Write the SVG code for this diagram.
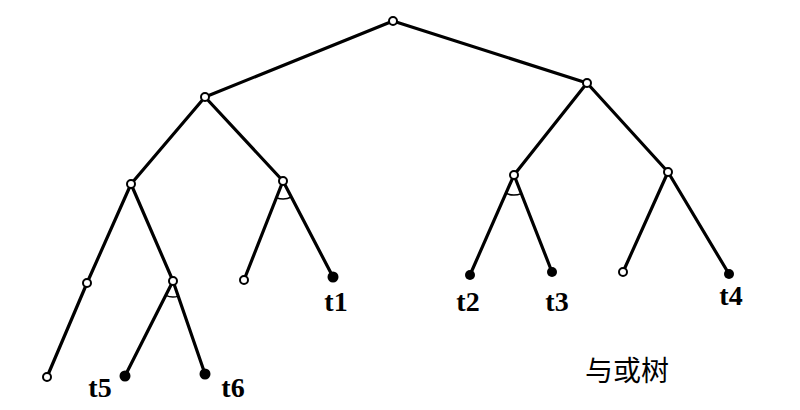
<svg xmlns="http://www.w3.org/2000/svg" width="800" height="410" viewBox="0 0 800 410">
<style>
.e{stroke:#000;stroke-width:3.2;fill:none;stroke-linecap:round}
.a{stroke:#000;stroke-width:1.5;fill:none}
.o{fill:#fff;stroke:#000;stroke-width:2}
.f{fill:#000}
.t{font-family:"Liberation Serif",serif;font-weight:bold;font-size:28px;text-anchor:middle;fill:#000}
.c{font-family:"Liberation Serif","Noto Sans CJK SC",serif;font-size:28px;text-anchor:middle;fill:#000}
</style>
<rect width="800" height="410" fill="#fff"/>
<g id="connectors">
<line class="e" x1="393" y1="21" x2="205" y2="97"/>
<line class="e" x1="393" y1="21" x2="587" y2="83"/>
<line class="e" x1="205" y1="97" x2="131" y2="184"/>
<line class="e" x1="205" y1="97" x2="283" y2="181"/>
<line class="e" x1="131" y1="184" x2="87" y2="283"/>
<line class="e" x1="131" y1="184" x2="173" y2="281"/>
<line class="e" x1="87" y1="283" x2="47" y2="377"/>
<line class="e" x1="173" y1="281" x2="125" y2="376"/>
<line class="e" x1="173" y1="281" x2="205" y2="374"/>
<line class="e" x1="283" y1="181" x2="244" y2="280"/>
<line class="e" x1="283" y1="181" x2="333" y2="277"/>
<line class="e" x1="587" y1="83" x2="514" y2="175"/>
<line class="e" x1="587" y1="83" x2="668" y2="172"/>
<line class="e" x1="514" y1="175" x2="470" y2="275"/>
<line class="e" x1="514" y1="175" x2="552" y2="272"/>
<line class="e" x1="668" y1="172" x2="623" y2="272"/>
<line class="e" x1="668" y1="172" x2="729" y2="274"/>
<path class="a" d="M276.4,197.7 A18,18 0 0 0 291.3,197"/>
<path class="a" d="M165.8,295.3 A16,16 0 0 0 178.2,296.1"/>
<path class="a" d="M505.9,193.3 A20,20 0 0 0 521.3,193.6"/>
</g>
<g id="n0"><circle class="o" cx="393" cy="21" r="4"/></g>
<g id="n1"><circle class="o" cx="205" cy="97" r="4"/></g>
<g id="n2"><circle class="o" cx="587" cy="83" r="4"/></g>
<g id="n3"><circle class="o" cx="131" cy="184" r="4"/></g>
<g id="n4"><circle class="o" cx="283" cy="181" r="4"/></g>
<g id="n5"><circle class="o" cx="87" cy="283" r="4"/></g>
<g id="n6"><circle class="o" cx="173" cy="281" r="4"/></g>
<g id="n7"><circle class="o" cx="47" cy="377" r="4"/></g>
<g id="t5"><circle class="f" cx="125" cy="376" r="5.5"/><text class="t" x="100" y="397">t5</text></g>
<g id="t6"><circle class="f" cx="205" cy="374" r="5.5"/><text class="t" x="233" y="397">t6</text></g>
<g id="n8"><circle class="o" cx="244" cy="280" r="4"/></g>
<g id="t1"><circle class="f" cx="333" cy="277" r="5.5"/><text class="t" x="336" y="311">t1</text></g>
<g id="n9"><circle class="o" cx="514" cy="175" r="4"/></g>
<g id="n10"><circle class="o" cx="668" cy="172" r="4"/></g>
<g id="t2"><circle class="f" cx="470" cy="275" r="5"/><text class="t" x="468" y="311">t2</text></g>
<g id="t3"><circle class="f" cx="552" cy="272" r="5"/><text class="t" x="557" y="311">t3</text></g>
<g id="n11"><circle class="o" cx="623" cy="272" r="4"/></g>
<g id="t4"><circle class="f" cx="729" cy="274" r="5"/><text class="t" x="731" y="305">t4</text></g>
<text class="c" x="627" y="381">与或树</text>
</svg>
